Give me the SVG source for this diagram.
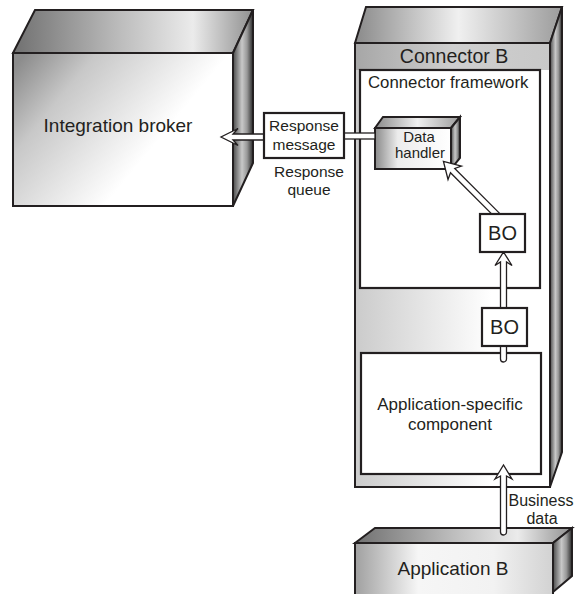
<svg xmlns="http://www.w3.org/2000/svg" width="577" height="594" viewBox="0 0 577 594">
<defs>
<style>
text{font-family:"Liberation Sans",Arial,Helvetica,sans-serif;fill:#231f20;}
.ol{stroke:#231f20;stroke-width:2;stroke-linejoin:miter;}
.box{fill:#fff;stroke:#231f20;stroke-width:2.2;}
.ar{fill:#fff;stroke:#231f20;stroke-width:1.3;stroke-linejoin:miter;}
</style>
<linearGradient id="gTop" x1="0" y1="0" x2="1" y2="0">
<stop offset="0" stop-color="#707070"/><stop offset="0.45" stop-color="#bdbdbd"/><stop offset="0.75" stop-color="#ebebeb"/><stop offset="1" stop-color="#909090"/>
</linearGradient>
<linearGradient id="gTopC" x1="0" y1="0" x2="1" y2="0">
<stop offset="0" stop-color="#8a8a8a"/><stop offset="0.5" stop-color="#f0f0f0"/><stop offset="1" stop-color="#9c9c9c"/>
</linearGradient>
<linearGradient id="gFront" x1="0" y1="0.1" x2="0.7" y2="0.5">
<stop offset="0" stop-color="#8c8c8c"/><stop offset="0.35" stop-color="#c8c8c8"/><stop offset="1" stop-color="#ffffff"/>
</linearGradient>
<linearGradient id="gFrontD" gradientUnits="userSpaceOnUse" x1="375" y1="0" x2="451" y2="0">
<stop offset="0" stop-color="#8a8a8a"/><stop offset="0.3" stop-color="#ececec"/><stop offset="1" stop-color="#ffffff"/>
</linearGradient>
<linearGradient id="gFrontA" gradientUnits="userSpaceOnUse" x1="355" y1="0" x2="553" y2="0">
<stop offset="0" stop-color="#a0a0a0"/><stop offset="0.32" stop-color="#f6f6f6"/><stop offset="0.7" stop-color="#f2f2f2"/><stop offset="1" stop-color="#d2d2d2"/>
</linearGradient>
<linearGradient id="gSide" x1="0" y1="0" x2="1" y2="0">
<stop offset="0" stop-color="#4a4a4a"/><stop offset="0.45" stop-color="#c8c8c8"/><stop offset="0.7" stop-color="#999"/><stop offset="1" stop-color="#2a2a2a"/>
</linearGradient>
<linearGradient id="gBand" x1="0" y1="0" x2="1" y2="0">
<stop offset="0" stop-color="#a6a6a6"/><stop offset="0.5" stop-color="#cfcfcf"/><stop offset="1" stop-color="#c8c8c8"/>
</linearGradient>
<linearGradient id="gBody" x1="0" y1="0" x2="1" y2="0">
<stop offset="0" stop-color="#cbcbcb"/><stop offset="0.7" stop-color="#ffffff"/>
</linearGradient>
</defs>

<g id="integration-broker">
<polygon points="13,53 35,10 253,10 233,53" fill="url(#gTop)" class="ol"/>
<polygon points="233,53 253,10 253,163 233,206" fill="url(#gSide)" class="ol"/>
<rect x="13" y="53" width="220" height="153" fill="url(#gFront)" class="ol"/>
<text x="118" y="132" font-size="19" text-anchor="middle">Integration broker</text>
</g>

<g id="connector-b">
<polygon points="355,43 366,7 562,7 550,43" fill="url(#gTopC)" class="ol"/>
<polygon points="550,43 562,7 562,452 550,487" fill="url(#gSide)" class="ol"/>
<rect x="355" y="43" width="195" height="444" fill="url(#gBody)"/>
<rect x="355" y="43" width="195" height="27" fill="url(#gBand)"/>
<rect x="355" y="43" width="195" height="444" fill="none" class="ol"/>
<text x="454" y="63" font-size="19.5" text-anchor="middle">Connector B</text>
</g>

<g id="connector-framework">
<rect x="360" y="70" width="180" height="218" class="box"/>
<text x="368" y="88" font-size="16.8">Connector framework</text>
</g>

<g id="application-specific-component">
<rect x="361" y="353" width="180" height="121" class="box"/>
<text x="450" y="410" font-size="17" text-anchor="middle">Application-specific</text>
<text x="450" y="430" font-size="17" text-anchor="middle">component</text>
</g>

<g id="data-handler">
<polygon points="375,128 383,117 460,117 451,128" fill="url(#gTopC)" class="ol"/>
<polygon points="451,128 460,117 460,158 451,169" fill="url(#gSide)" class="ol"/>
<rect x="375" y="128" width="76" height="41" fill="url(#gFrontD)" class="ol"/>
<text x="419" y="142" font-size="15" text-anchor="middle">Data</text>
<text x="420" y="158" font-size="15" text-anchor="middle">handler</text>
</g>

<g id="application-b">
<polygon points="355,543 375,528 572,528 553,543" fill="url(#gTop)" class="ol"/>
<polygon points="553,543 572,528 572,576 553,592" fill="url(#gSide)" class="ol"/>
<rect x="355" y="543" width="198" height="51" fill="url(#gFrontA)"/>
<path d="M355,596 V543 H553 V596" fill="none" class="ol"/>
<text x="453" y="575" font-size="19" text-anchor="middle">Application B</text>
</g>

<g id="connectors">
<polygon class="ar" points="264,134 233,134 238,128.5 221,137 238,145.5 233,140 264,140"/>
<rect class="ar" x="344" y="133" width="31" height="6"/>
<polygon class="ar" transform="translate(500,218) rotate(-135)" points="0,-3 67,-3 64,-9.5 80,0 64,9.5 67,3 0,3"/>
<polygon class="ar" points="500.5,308 500.5,262 495,265.5 503.5,252 512,265.5 506.5,262 506.5,308"/>
<path class="ar" d="M500.5,346 V359 A3,3 0 0 0 506.5,359 V346"/>
<path class="ar" d="M500.5,532 V476 L495,479 L503.5,465 L512,479 L506.5,476 V532 A3,3 0 0 1 500.5,532 Z"/>
</g>

<g id="bo-upper">
<rect x="480" y="214" width="45" height="38" class="box"/>
<text x="502.5" y="240" font-size="20" text-anchor="middle">BO</text>
</g>

<g id="bo-lower">
<rect x="482" y="308" width="45" height="38" class="box"/>
<text x="504.5" y="334" font-size="20" text-anchor="middle">BO</text>
</g>

<g id="response-message">
<rect x="264" y="113" width="80" height="45" class="box"/>
<text x="304" y="131" font-size="15.5" text-anchor="middle">Response</text>
<text x="304" y="150" font-size="15.5" text-anchor="middle">message</text>
</g>

<g id="labels">
<text x="309" y="177" font-size="15.5" text-anchor="middle">Response</text>
<text x="309" y="195" font-size="15.5" text-anchor="middle">queue</text>
<text x="541" y="506" font-size="16" text-anchor="middle">Business</text>
<text x="542" y="524" font-size="16" text-anchor="middle">data</text>
</g>
</svg>
